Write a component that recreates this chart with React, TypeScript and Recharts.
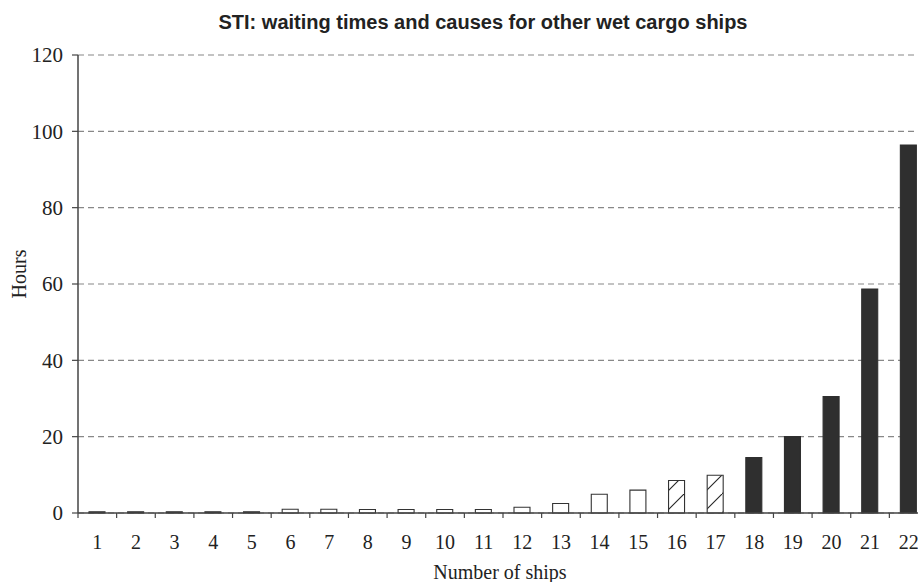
import { Bar, BarChart, CartesianGrid, Cell, XAxis, YAxis } from "recharts";

// Ship number 1..22, waiting hours and the cause group of each bar.
const SHIPS = ["1", "2", "3", "4", "5", "6", "7", "8", "9", "10", "11", "12", "13", "14", "15", "16", "17", "18", "19", "20", "21", "22"];
const HOURS = [0.3, 0.3, 0.3, 0.3, 0.3, 1, 1, 0.9, 0.9, 0.9, 0.9, 1.5, 2.5, 4.9, 6, 8.5, 9.9, 14.5, 20, 30.5, 58.7, 96.4];
const CAUSE = ["dark", "dark", "dark", "dark", "dark", "open", "open", "open", "open", "open", "open", "open", "open", "open", "open", "hatch", "hatch", "dark", "dark", "dark", "dark", "dark"];
const Y_TICKS = [0, 20, 40, 60, 80, 100, 120];

const TITLE = "STI: waiting times and causes for other wet cargo ships";

const rows = SHIPS.map((ship, i) => ({ ship, hours: HOURS[i], cause: CAUSE[i] }));

const CHART_W = 930;
const CHART_H = 582;
const MARGIN = { top: 55, right: 2, bottom: 19, left: 8 };
const Y_AXIS_W = 70;
const BAND = (CHART_W - MARGIN.left - MARGIN.right - Y_AXIS_W) / SHIPS.length;

const DARK = "#2f2f2f";
const AXIS = "#444";
const SERIF = "'Liberation Serif', 'Times New Roman', serif";

const fillFor = (cause: string) =>
  cause === "dark" ? DARK : cause === "hatch" ? "url(#hatch)" : "#fff";

// label at the band centre, tick mark at the band's left edge (and right edge for the last one)
function ShipTick(props: any) {
  const { x, y, payload, index } = props;
  const axisY = y - 36;
  return (
    <g>
      <line x1={x - BAND / 2} x2={x - BAND / 2} y1={axisY} y2={axisY + 5} stroke={AXIS} strokeWidth={1.2} />
      {index === SHIPS.length - 1 && (
        <line x1={x + BAND / 2} x2={x + BAND / 2} y1={axisY} y2={axisY + 5} stroke={AXIS} strokeWidth={1.2} />
      )}
      <text x={x} y={y} textAnchor="middle" fontFamily={SERIF} fontSize={20} fill="#222">
        {payload.value}
      </text>
    </g>
  );
}

export default function App() {
  return (
    <div style={{ position: "relative", width: 918, height: 582, background: "#fff", overflow: "hidden" }}>
      <style>{"body{margin:0;overflow:hidden}"}</style>
      <div
        style={{
          position: "absolute",
          left: 483,
          top: 11,
          transform: "translateX(-50%)",
          whiteSpace: "nowrap",
          fontFamily: "'Liberation Sans', Arial, sans-serif",
          fontWeight: 700,
          fontSize: 20,
          lineHeight: "22px",
          color: "#222",
        }}
      >
        {TITLE}
      </div>
      <div
        style={{
          position: "absolute",
          left: 19,
          top: 274,
          transform: "translate(-50%, -50%) rotate(-90deg)",
          whiteSpace: "nowrap",
          fontFamily: SERIF,
          fontSize: 20,
          color: "#222",
        }}
      >
        Hours
      </div>
      <div
        style={{
          position: "absolute",
          left: 500,
          top: 561,
          transform: "translateX(-50%)",
          whiteSpace: "nowrap",
          fontFamily: SERIF,
          fontSize: 20,
          lineHeight: "22px",
          color: "#222",
        }}
      >
        Number of ships
      </div>
      <div style={{ position: "absolute", left: 0, top: 0 }}>
        <BarChart width={CHART_W} height={CHART_H} data={rows} margin={MARGIN} barSize={16}>
          <defs>
            <pattern id="hatch" patternUnits="userSpaceOnUse" width={19} height={19}>
              <rect width={19} height={19} fill="#fff" />
              <line x1={0} y1={19} x2={19} y2={0} stroke="#222" strokeWidth={1.1} />
            </pattern>
          </defs>
          <CartesianGrid vertical={false} stroke="#888" strokeDasharray="6 4" strokeWidth={1.2} />
          <XAxis
            dataKey="ship"
            height={50}
            tickLine={false}
            tickSize={5}
            tickMargin={31}
            interval={0}
            axisLine={{ stroke: AXIS, strokeWidth: 1.5 }}
            tick={<ShipTick />}
          />
          <YAxis
            width={Y_AXIS_W}
            domain={[0, 120]}
            ticks={Y_TICKS}
            interval={0}
            tickSize={6}
            tickMargin={9}
            axisLine={{ stroke: AXIS, strokeWidth: 1.5 }}
            tickLine={{ stroke: AXIS, strokeWidth: 1.2 }}
            tick={{ fontFamily: SERIF, fontSize: 21, fill: "#222" }}
          />
          <Bar dataKey="hours" isAnimationActive={false} stroke="#333" strokeWidth={1.1}>
            {rows.map((r) => (
              <Cell key={r.ship} fill={fillFor(r.cause)} stroke={r.cause === "dark" ? DARK : "#333"} />
            ))}
          </Bar>
        </BarChart>
      </div>
    </div>
  );
}
